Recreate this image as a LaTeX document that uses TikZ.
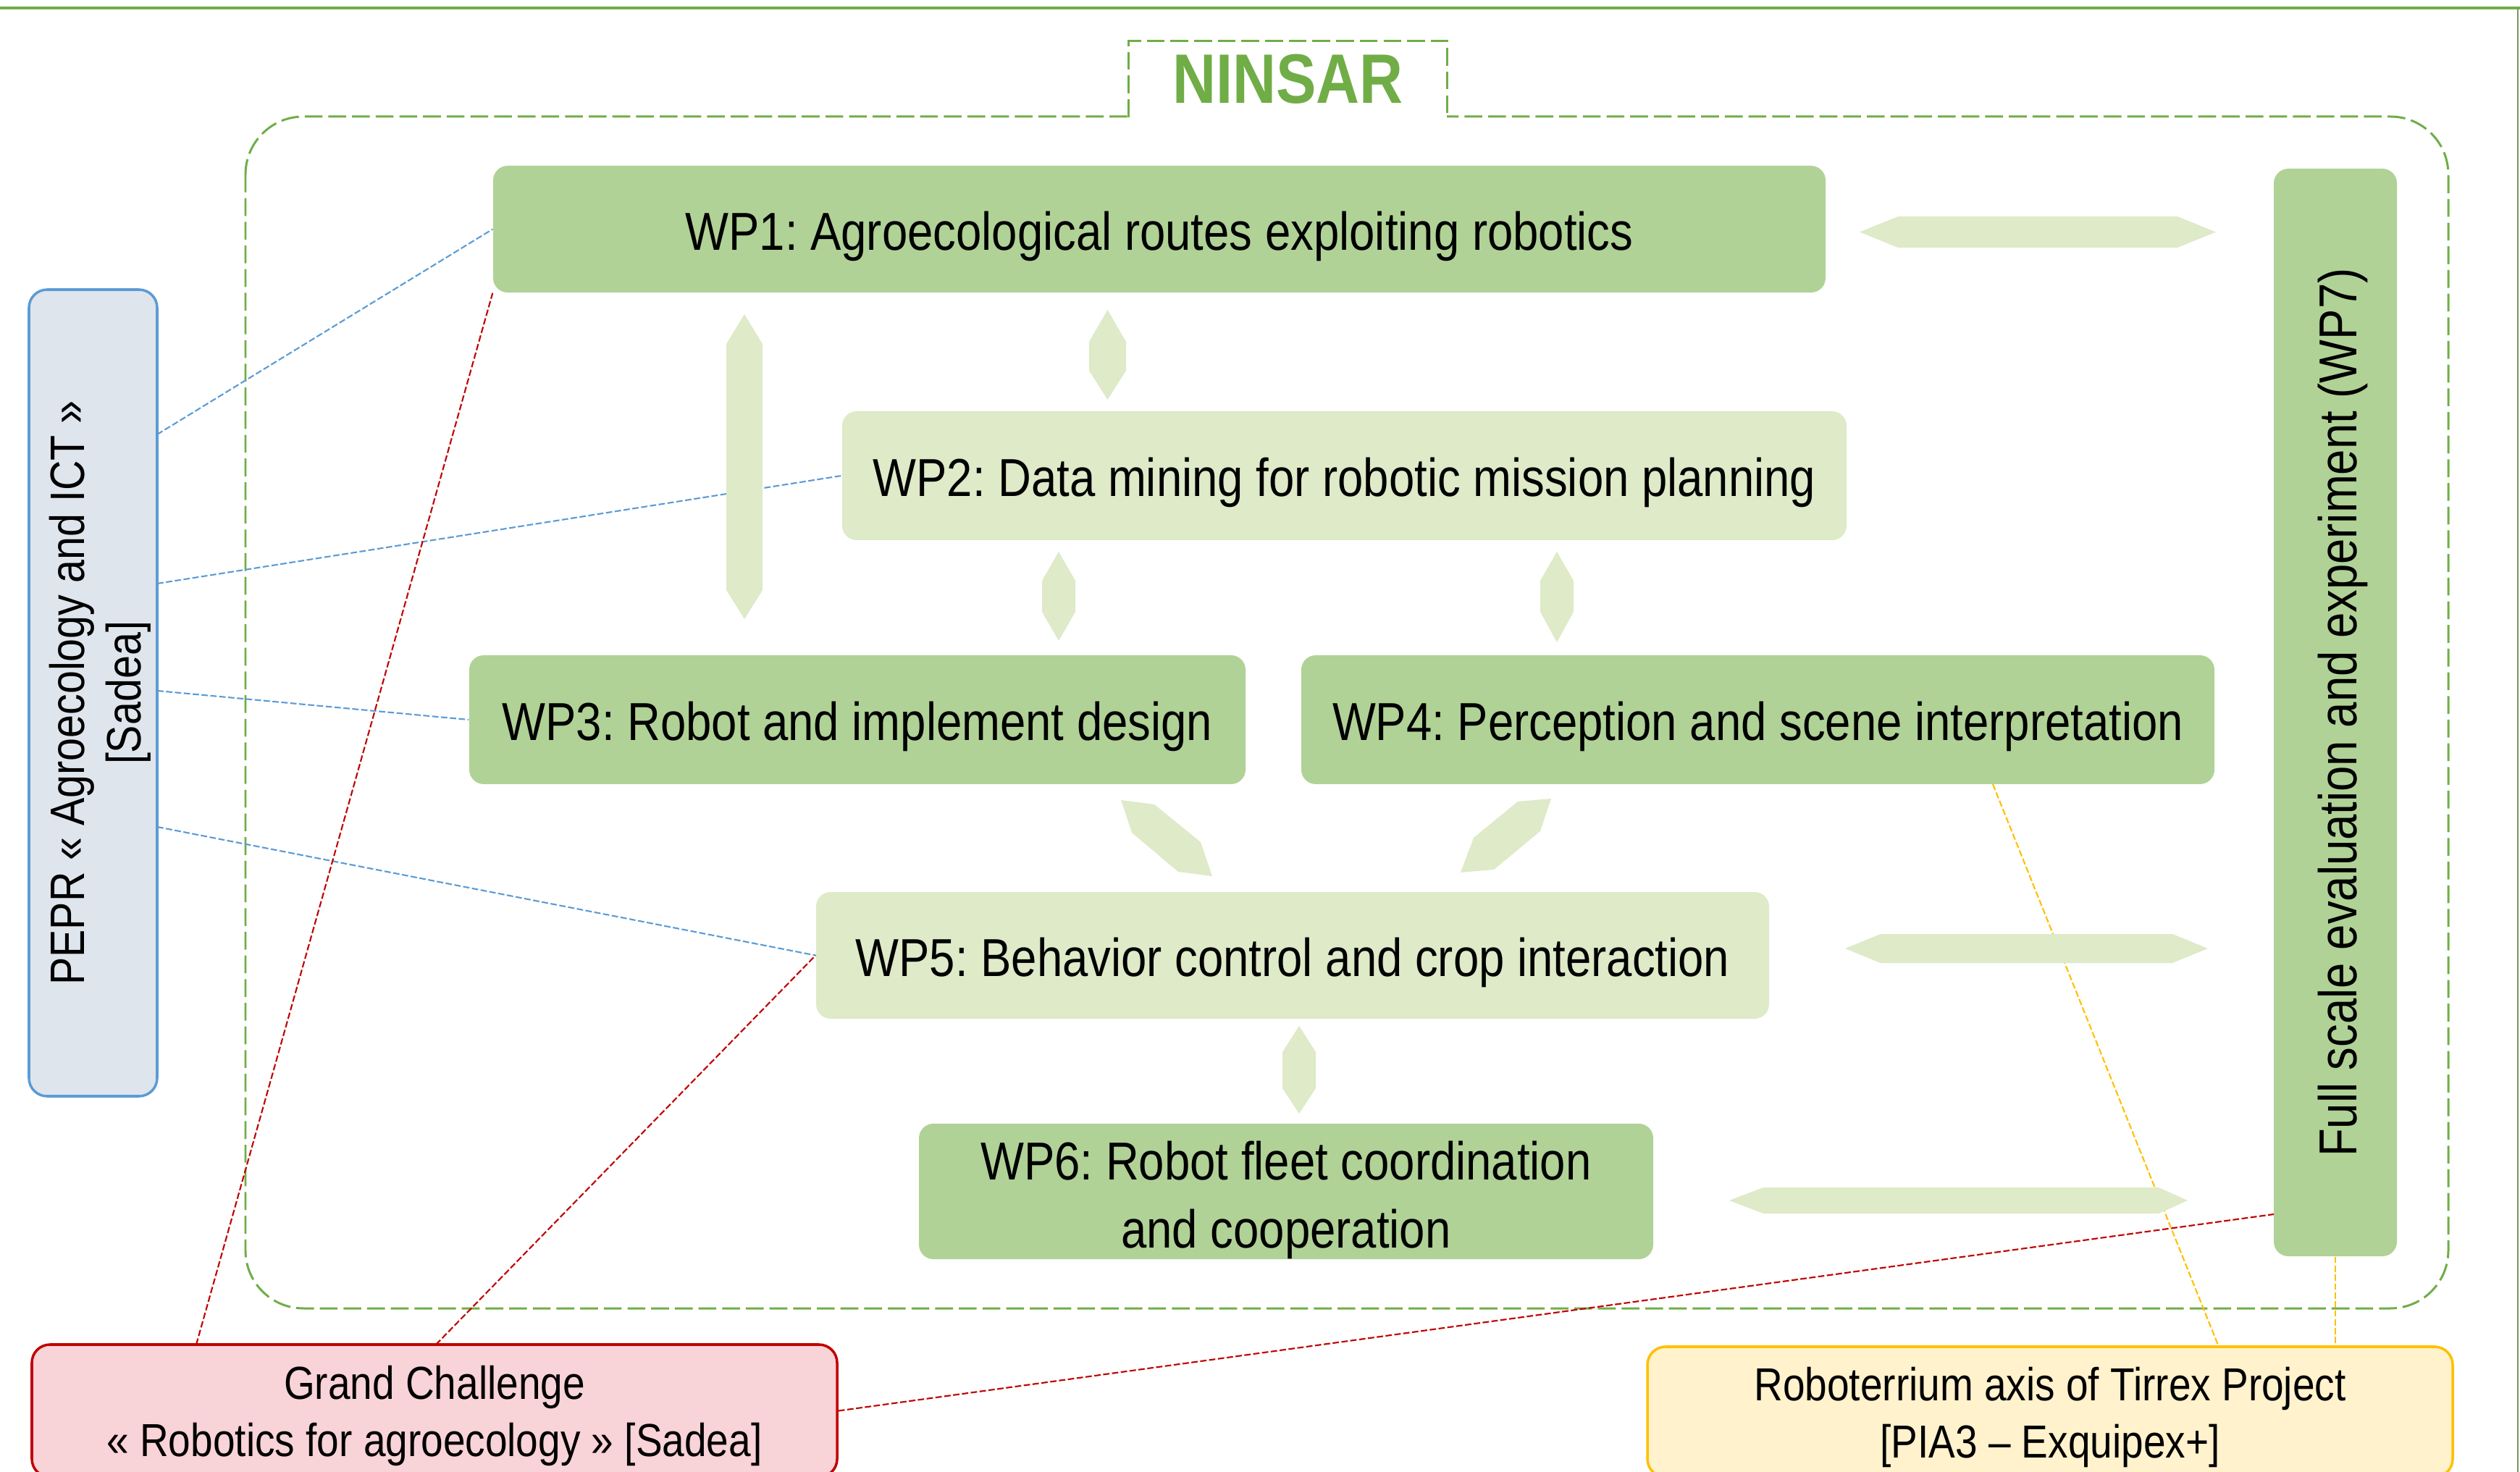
\documentclass[tikz,border=0pt]{standalone}
\usepackage{fontspec}
\setmainfont{Liberation Sans}[FakeStretch=0.86]
\frenchspacing
\definecolor{ngreen}{HTML}{70AD47}
\definecolor{wpdark}{HTML}{B0D296}
\definecolor{wplight}{HTML}{DEEAC8}
\definecolor{peprfill}{HTML}{DFE5EC}
\definecolor{peprline}{HTML}{5B9BD5}
\definecolor{gcfill}{HTML}{F8D3D8}
\definecolor{gcline}{HTML}{C00000}
\definecolor{robfill}{HTML}{FFF2CC}
\definecolor{robline}{HTML}{FFC000}
\begin{document}
\begin{tikzpicture}[x=1cm,y=-1cm,
    wpbox/.style={rounded corners=0.2cm,inner sep=0pt,align=center,font=\fontsize{21}{26.7}\selectfont},
    oneline/.style={text height=0.58cm,text depth=0cm},
    outbox/.style={rounded corners=0.25cm,line width=1pt,inner sep=0pt,align=center,font=\fontsize{18.2}{22.5}\selectfont},
    outerdash/.style={ngreen,line width=0.85pt,dash pattern=on 7pt off 2.3pt},
    conn/.style={line width=0.6pt,dash pattern=on 2.5pt off 1pt},
    blockarrow/.style={fill=wplight}]
        \useasboundingbox (0,0) rectangle (34.80,20.33);
        % frame lines of the page
        \draw[ngreen,line width=1.1pt] (0,0.11)--(34.80,0.11);
        \draw[ngreen!50!gray,line width=0.5pt] (34.77,0.11)--(34.77,20.33);
        % NINSAR frame
        \draw[outerdash,rounded corners=0.8cm] (3.39,1.61) rectangle (33.81,18.07);
        \fill[white] (15.59,1.40) rectangle (19.98,1.75);
        \node[minimum width=4.39cm,minimum height=1.04cm,inner sep=0pt,text=ngreen,font=\bfseries\fontsize{27.5}{30}\selectfont] (ninsar) at (17.785,1.09) {NINSAR};
        \draw[outerdash] (ninsar.south west)--(ninsar.north west)--(ninsar.north east)--(ninsar.south east);

        % work packages
        \node[wpbox,oneline,fill=wpdark,minimum width=18.40cm,minimum height=1.75cm] (wp1) at (16.01,3.165) {WP1: Agroecological routes exploiting robotics};
        \node[wpbox,oneline,fill=wplight,minimum width=13.87cm,minimum height=1.78cm] (wp2) at (18.565,6.57) {WP2: Data mining for robotic mission planning};
        \node[wpbox,oneline,fill=wpdark,minimum width=10.72cm,minimum height=1.78cm] (wp3) at (11.84,9.94) {WP3: Robot and implement design};
        \node[wpbox,oneline,fill=wpdark,minimum width=12.61cm,minimum height=1.78cm] (wp4) at (24.275,9.94) {WP4: Perception and scene interpretation};
        \node[wpbox,oneline,fill=wplight,minimum width=13.16cm,minimum height=1.75cm] (wp5) at (17.85,13.195) {WP5: Behavior control and crop interaction};
        \node[wpbox,fill=wpdark,minimum width=10.14cm,minimum height=1.75cm] (wp6) at (17.76,16.455) {\rule{0pt}{0.78cm}WP6: Robot fleet coordination\\and cooperation};
        \node[wpbox,oneline,fill=wpdark,rotate=90,minimum width=15.02cm,minimum height=1.70cm] (wp7) at (32.25,9.84) {Full scale evaluation and experiment (WP7)};

        % partner projects
        \node[outbox,fill=peprfill,draw=peprline,rotate=90,minimum width=11.14cm,minimum height=1.77cm,font=\fontsize{19}{22.2}\selectfont] (pepr) at (1.285,9.57) {\rule{0pt}{0.67cm}PEPR « Agroecology and ICT »\\{[Sadea]}};
        \node[outbox,fill=gcfill,draw=gcline,minimum width=11.12cm,minimum height=1.83cm] (gc) at (6.00,19.485) {\rule{0pt}{0.61cm}Grand Challenge\\« Robotics for agroecology » [Sadea]};
        \node[outbox,fill=robfill,draw=robline,minimum width=11.12cm,minimum height=1.80cm] (rob) at (28.31,19.50) {\rule{0pt}{0.62cm}Roboterrium axis of Tirrex Project\\{[PIA3 – Exquipex+]}};

        % links to the partner projects
        \coordinate (pepr1) at (2.17,6.00);
        \coordinate (pepr2) at (2.17,8.06);
        \coordinate (pepr3) at (2.17,9.54);
        \coordinate (pepr5) at (2.17,11.42);
        \draw[conn,peprline] (pepr1)--(wp1.west);
        \draw[conn,peprline] (pepr2)--(wp2.west);
        \draw[conn,peprline] (pepr3)--(wp3.west);
        \draw[conn,peprline] (pepr5)--(wp5.west);
        \coordinate (gc1) at (2.71,18.57);
        \coordinate (gc5) at (6.02,18.57);
        \coordinate (wp7gc) at (31.40,16.77);
        \draw[conn,gcline] (gc1)--(wp1.south west);
        \draw[conn,gcline] (gc5)--(wp5.west);
        \draw[conn,gcline] (gc.east)--(wp7gc);
        \coordinate (wp4rob) at (27.52,10.83);
        \coordinate (rob4) at (30.64,18.60);
        \draw[conn,robline] (wp4rob)--(rob4);
        \draw[conn,robline] (wp7.west)--(wp7.west |- rob.north); % west = bottom of the turned box

        % block arrows between the work packages
        \fill[blockarrow] (25.68,3.205)--(26.21,2.99)--(30.07,2.99)--(30.60,3.205)--(30.07,3.42)--(26.21,3.42)--cycle;
        \fill[blockarrow] (25.48,13.10)--(25.97,12.90)--(30.00,12.90)--(30.49,13.10)--(30.00,13.30)--(25.97,13.30)--cycle;
        \fill[blockarrow] (23.88,16.58)--(24.35,16.40)--(29.81,16.40)--(30.21,16.58)--(29.81,16.76)--(24.35,16.76)--cycle;
        \fill[blockarrow] (10.28,4.34)--(10.53,4.75)--(10.53,8.15)--(10.28,8.55)--(10.03,8.15)--(10.03,4.75)--cycle;
        \fill[blockarrow] (15.295,4.28)--(15.55,4.72)--(15.55,5.12)--(15.295,5.52)--(15.04,5.12)--(15.04,4.72)--cycle;
        \fill[blockarrow] (14.62,7.62)--(14.85,8.02)--(14.85,8.45)--(14.62,8.85)--(14.39,8.45)--(14.39,8.02)--cycle;
        \fill[blockarrow] (21.50,7.62)--(21.73,8.02)--(21.73,8.45)--(21.50,8.87)--(21.27,8.45)--(21.27,8.02)--cycle;
        \fill[blockarrow] (17.94,14.17)--(18.17,14.53)--(18.17,15.03)--(17.94,15.38)--(17.71,15.03)--(17.71,14.53)--cycle;
        \fill[blockarrow] (15.48,11.05)--(15.94,11.11)--(16.58,11.63)--(16.74,12.10)--(16.27,12.04)--(15.63,11.50)--cycle;
        \fill[blockarrow] (21.42,11.03)--(20.96,11.07)--(20.35,11.57)--(20.17,12.05)--(20.63,12.01)--(21.27,11.48)--cycle;
    \end{tikzpicture}
\end{document}
